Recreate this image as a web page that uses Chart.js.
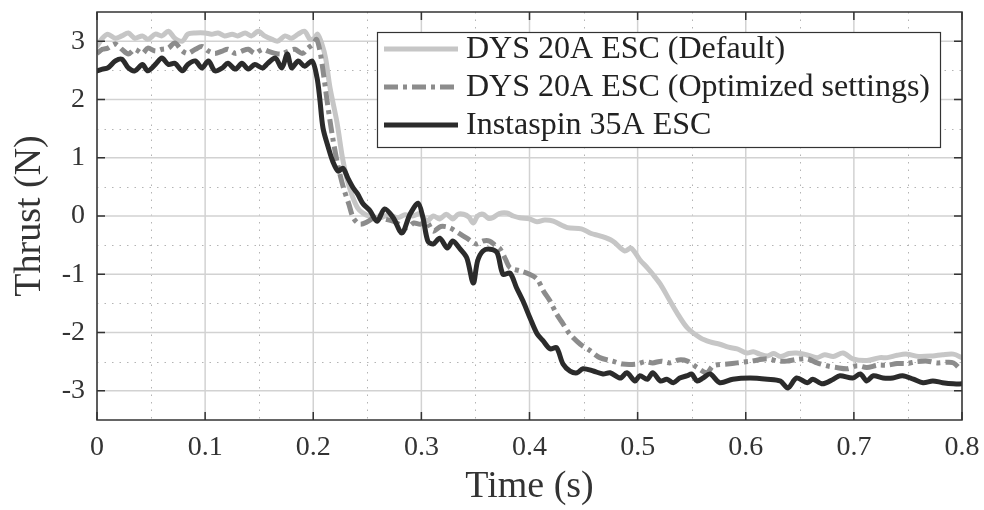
<!DOCTYPE html>
<html>
<head>
<meta charset="utf-8">
<script src="https://cdn.jsdelivr.net/npm/chart.js@4"></script>
<style>
  html, body { margin: 0; padding: 0; background: #fff; }
  #wrap { width: 984px; height: 510px; }
</style>
</head>
<body>
<div id="wrap"><canvas id="c" width="984" height="510"></canvas></div>
<script>
// Step response of three ESCs: thrust (N) versus time (s)
const seriesNames = ['DYS 20A ESC (Default)', 'DYS 20A ESC (Optimized settings)', 'Instaspin 35A ESC'];

const timeDefault = [0,0.005,0.010,0.017,0.023,0.029,0.035,0.042,0.047,0.054,0.060,0.066,0.072,0.079,0.084,0.091,0.100,0.106,0.112,0.118,0.125,0.130,0.137,0.143,0.149,0.155,0.162,0.167,0.174,0.180,0.186,0.192,0.197,0.201,0.204,0.208,0.2115,0.2155,0.222,0.227,0.231,0.236,0.241,0.246,0.252,0.262,0.270,0.278,0.285,0.292,0.299,0.305,0.311,0.317,0.323,0.329,0.334,0.339,0.344,0.348,0.352,0.357,0.362,0.366,0.372,0.379,0.385,0.391,0.400,0.407,0.414,0.422,0.435,0.448,0.457,0.465,0.477,0.488,0.494,0.502,0.509,0.514,0.521,0.530,0.536,0.546,0.558,0.567,0.576,0.584,0.592,0.601,0.607,0.613,0.620,0.626,0.632,0.640,0.647,0.656,0.666,0.673,0.681,0.690,0.699,0.712,0.724,0.731,0.740,0.749,0.760,0.773,0.782,0.792,0.800];
const thrustDefault = [2.91,3.05,3.12,3.05,3.09,3.14,3.05,3.09,3.03,3.12,3.09,3.17,3.05,3.00,3.12,3.14,3.14,3.12,3.14,3.09,3.12,3.09,3.14,3.09,3.17,3.09,3.03,3.00,3.09,3.05,3.12,3.17,3.03,3.05,3.12,2.95,2.7,2.2,1.6,1.0,0.65,0.35,0.14,0.05,0.0,-0.03,0.02,-0.03,0.02,0.0,0.04,-0.09,0.0,-0.05,0.03,-0.05,0.03,0.03,-0.02,-0.12,0.0,0.03,-0.04,-0.03,0.04,0.05,0.0,-0.03,-0.05,-0.1,-0.07,-0.09,-0.2,-0.22,-0.3,-0.34,-0.43,-0.6,-0.55,-0.75,-0.89,-1.0,-1.17,-1.46,-1.65,-1.92,-2.09,-2.16,-2.2,-2.25,-2.28,-2.35,-2.33,-2.37,-2.4,-2.36,-2.41,-2.36,-2.35,-2.38,-2.43,-2.38,-2.41,-2.35,-2.45,-2.48,-2.43,-2.43,-2.39,-2.37,-2.41,-2.4,-2.38,-2.37,-2.43];

const timeOptimized = [0,0.005,0.010,0.017,0.023,0.029,0.035,0.042,0.047,0.054,0.060,0.066,0.072,0.079,0.084,0.091,0.097,0.103,0.109,0.116,0.121,0.128,0.134,0.140,0.146,0.153,0.158,0.165,0.171,0.177,0.183,0.190,0.195,0.200,0.203,0.206,0.209,0.213,0.218,0.223,0.228,0.233,0.237,0.243,0.250,0.259,0.266,0.274,0.281,0.287,0.293,0.299,0.305,0.311,0.318,0.326,0.335,0.342,0.351,0.357,0.363,0.368,0.373,0.378,0.382,0.391,0.400,0.407,0.413,0.419,0.425,0.431,0.437,0.447,0.456,0.465,0.477,0.486,0.499,0.507,0.514,0.522,0.530,0.538,0.546,0.555,0.564,0.570,0.583,0.592,0.605,0.620,0.630,0.638,0.647,0.657,0.666,0.675,0.684,0.694,0.703,0.712,0.722,0.731,0.740,0.749,0.758,0.768,0.777,0.786,0.792,0.798];
const thrustOptimized = [2.79,2.86,2.88,2.95,2.86,2.78,2.86,2.79,2.88,2.83,2.86,2.88,2.97,2.83,2.79,2.86,2.91,2.83,2.79,2.83,2.86,2.79,2.83,2.86,2.79,2.86,2.83,2.79,2.78,2.83,2.86,2.79,2.88,2.95,3.03,2.85,2.5,1.95,1.34,0.85,0.48,0.2,-0.03,-0.14,-0.1,0.0,-0.05,-0.09,-0.16,-0.2,-0.12,-0.14,-0.1,-0.26,-0.18,-0.2,-0.3,-0.38,-0.48,-0.43,-0.43,-0.5,-0.57,-0.75,-0.89,-0.94,-1.0,-1.08,-1.29,-1.46,-1.68,-1.85,-2.02,-2.2,-2.31,-2.43,-2.49,-2.54,-2.54,-2.5,-2.52,-2.49,-2.52,-2.47,-2.49,-2.6,-2.69,-2.57,-2.54,-2.52,-2.49,-2.45,-2.49,-2.49,-2.46,-2.45,-2.52,-2.57,-2.6,-2.62,-2.57,-2.6,-2.56,-2.56,-2.53,-2.53,-2.5,-2.49,-2.52,-2.51,-2.52,-2.62];

const timeInstaspin = [0,0.005,0.010,0.017,0.023,0.029,0.035,0.042,0.047,0.054,0.060,0.066,0.072,0.079,0.084,0.091,0.097,0.103,0.109,0.116,0.121,0.128,0.134,0.140,0.146,0.153,0.158,0.165,0.171,0.176,0.180,0.186,0.192,0.199,0.2035,0.206,0.209,0.214,0.218,0.223,0.2275,0.232,0.237,0.241,0.246,0.2525,0.259,0.266,0.274,0.282,0.2895,0.297,0.3015,0.306,0.311,0.317,0.324,0.329,0.336,0.342,0.348,0.352,0.357,0.3635,0.370,0.3755,0.382,0.388,0.394,0.4005,0.407,0.4125,0.419,0.425,0.431,0.4375,0.444,0.4495,0.459,0.468,0.4745,0.484,0.490,0.4976,0.502,0.509,0.514,0.521,0.527,0.533,0.539,0.546,0.550,0.555,0.5605,0.567,0.576,0.588,0.604,0.620,0.632,0.639,0.647,0.657,0.662,0.671,0.681,0.687,0.699,0.706,0.712,0.718,0.727,0.736,0.745,0.755,0.764,0.773,0.782,0.792,0.800];
const thrustInstaspin = [2.49,2.52,2.54,2.66,2.69,2.54,2.49,2.60,2.49,2.60,2.71,2.60,2.62,2.49,2.60,2.66,2.54,2.66,2.49,2.54,2.62,2.52,2.62,2.52,2.60,2.54,2.62,2.71,2.54,2.78,2.54,2.66,2.57,2.66,2.37,2.02,1.51,1.17,0.94,0.77,0.82,0.65,0.48,0.38,0.21,0.09,-0.09,0.12,-0.03,-0.29,0.03,0.22,-0.03,-0.43,-0.48,-0.38,-0.55,-0.43,-0.57,-0.72,-1.15,-0.77,-0.6,-0.57,-0.63,-1.0,-0.98,-1.23,-1.46,-1.75,-2.02,-2.14,-2.28,-2.26,-2.54,-2.66,-2.69,-2.62,-2.66,-2.71,-2.69,-2.78,-2.69,-2.83,-2.74,-2.8,-2.69,-2.83,-2.8,-2.86,-2.78,-2.74,-2.71,-2.83,-2.78,-2.71,-2.86,-2.8,-2.78,-2.8,-2.83,-2.95,-2.78,-2.86,-2.8,-2.88,-2.8,-2.74,-2.78,-2.71,-2.83,-2.74,-2.78,-2.78,-2.74,-2.8,-2.86,-2.83,-2.86,-2.88,-2.88];

const xTickValues = [0, 0.1, 0.2, 0.3, 0.4, 0.5, 0.6, 0.7, 0.8];
const xTickLabels = ['0', '0.1', '0.2', '0.3', '0.4', '0.5', '0.6', '0.7', '0.8'];
const yTickValues = [-3, -2, -1, 0, 1, 2, 3];
const yTickLabels = ['-3', '-2', '-1', '0', '1', '2', '3'];

const SERIF = '"Liberation Serif", "DejaVu Serif", serif';
const INK = '#333333';

function toPoints(ts, vs) { return ts.map((t, i) => ({ x: t, y: vs[i] })); }

const styles = [
  { color: '#c6c6c6', dash: [] },
  { color: '#8c8c8c', dash: [14, 5, 4, 5] },
  { color: '#2b2b2b', dash: [] }
];

const datasets = [
  toPoints(timeDefault, thrustDefault),
  toPoints(timeOptimized, thrustOptimized),
  toPoints(timeInstaspin, thrustInstaspin)
].map((pts, i) => ({
  label: seriesNames[i],
  data: pts,
  borderColor: styles[i].color,
  borderDash: styles[i].dash,
  borderWidth: 5,
  borderCapStyle: styles[i].dash.length ? 'butt' : 'round',
  borderJoinStyle: 'round',
  pointRadius: 0,
  tension: 0.3,
  fill: false,
  order: 2 - i
}));

// Grid (major solid, minor dotted), boxed axes with inner ticks, and the legend
const framePlugin = {
  id: 'frame',
  beforeDatasetsDraw(chart) {
    const { ctx, chartArea: a, scales: { x, y } } = chart;
    ctx.save();
    ctx.lineWidth = 1;
    ctx.strokeStyle = '#b4b4b4';
    ctx.setLineDash([1.5, 6]);
    for (let i = 0; i < xTickValues.length - 1; i++) {
      const px = Math.round(x.getPixelForValue((xTickValues[i] + xTickValues[i + 1]) / 2)) + 0.5;
      ctx.beginPath(); ctx.moveTo(px, a.top); ctx.lineTo(px, a.bottom); ctx.stroke();
    }
    for (let i = 0; i < yTickValues.length - 1; i++) {
      const py = Math.round(y.getPixelForValue((yTickValues[i] + yTickValues[i + 1]) / 2)) + 0.5;
      ctx.beginPath(); ctx.moveTo(a.left, py); ctx.lineTo(a.right, py); ctx.stroke();
    }
    ctx.setLineDash([]);
    ctx.strokeStyle = '#d2d2d2';
    ctx.lineWidth = 1.5;
    xTickValues.forEach(v => {
      const px = x.getPixelForValue(v);
      ctx.beginPath(); ctx.moveTo(px, a.top); ctx.lineTo(px, a.bottom); ctx.stroke();
    });
    yTickValues.forEach(v => {
      const py = y.getPixelForValue(v);
      ctx.beginPath(); ctx.moveTo(a.left, py); ctx.lineTo(a.right, py); ctx.stroke();
    });
    ctx.restore();
  },
  afterDraw(chart) {
    const { ctx, chartArea: a, scales: { x, y } } = chart;
    ctx.save();
    ctx.strokeStyle = INK;
    ctx.lineWidth = 1.5;
    const tl = 8;
    xTickValues.forEach(v => {
      const px = x.getPixelForValue(v);
      ctx.beginPath();
      ctx.moveTo(px, a.bottom); ctx.lineTo(px, a.bottom - tl);
      ctx.moveTo(px, a.top); ctx.lineTo(px, a.top + tl);
      ctx.stroke();
    });
    yTickValues.forEach(v => {
      const py = y.getPixelForValue(v);
      ctx.beginPath();
      ctx.moveTo(a.left, py); ctx.lineTo(a.left + tl, py);
      ctx.moveTo(a.right, py); ctx.lineTo(a.right - tl, py);
      ctx.stroke();
    });
    ctx.strokeRect(a.left, a.top, a.right - a.left, a.bottom - a.top);

    // legend
    const box = { left: 377, top: 32, width: 563, height: 115 };
    ctx.fillStyle = '#ffffff';
    ctx.fillRect(box.left, box.top, box.width, box.height);
    ctx.lineWidth = 1.2;
    ctx.strokeStyle = INK;
    ctx.strokeRect(box.left + 0.5, box.top + 0.5, box.width, box.height);
    const rows = [49, 87, 125];
    chart.data.datasets.forEach((ds, i) => {
      const ry = rows[i];
      ctx.save();
      ctx.strokeStyle = ds.borderColor;
      ctx.lineWidth = ds.borderWidth;
      ctx.setLineDash(ds.borderDash);
      ctx.lineCap = 'butt';
      ctx.beginPath(); ctx.moveTo(384, ry); ctx.lineTo(458, ry); ctx.stroke();
      ctx.restore();
      ctx.fillStyle = '#222222';
      ctx.font = '32px ' + SERIF;
      ctx.textBaseline = 'middle';
      ctx.textAlign = 'left';
      ctx.fillText(ds.label, 466, ry + 1);
    });
    ctx.restore();
  }
};

new Chart(document.getElementById('c'), {
  type: 'line',
  data: { datasets },
  options: {
    responsive: false,
    animation: false,
    devicePixelRatio: 1,
    layout: { padding: { left: 0, right: 22, top: 12, bottom: 0 } },
    plugins: { legend: { display: false }, tooltip: { enabled: false } },
    scales: {
      x: {
        type: 'linear',
        min: 0, max: 0.8,
        afterBuildTicks: s => { s.ticks = xTickValues.map(v => ({ value: v })); },
        afterFit: s => { s.height = 90; s.paddingLeft = 0; s.paddingRight = 0; },
        grid: { display: false, drawTicks: false },
        border: { display: false },
        ticks: {
          padding: 11,
          maxRotation: 0,
          color: INK,
          font: { family: SERIF, size: 28 },
          callback: (v, i) => xTickLabels[i]
        },
        title: {
          display: true, text: 'Time (s)', color: INK,
          font: { family: SERIF, size: 38 },
          padding: { top: 0, bottom: 0 }
        }
      },
      y: {
        type: 'linear',
        min: -3.5, max: 3.5,
        afterBuildTicks: s => { s.ticks = yTickValues.map(v => ({ value: v })); },
        afterFit: s => { s.width = 97; s.paddingTop = 0; s.paddingBottom = 0; },
        grid: { display: false, drawTicks: false },
        border: { display: false },
        ticks: {
          padding: 12,
          color: INK,
          font: { family: SERIF, size: 28 },
          callback: (v, i) => yTickLabels[i]
        },
        title: {
          display: true, text: 'Thrust (N)', color: INK,
          font: { family: SERIF, size: 38 },
          padding: { top: 7, bottom: 0 }
        }
      }
    }
  },
  plugins: [framePlugin]
});
</script>
</body>
</html>
